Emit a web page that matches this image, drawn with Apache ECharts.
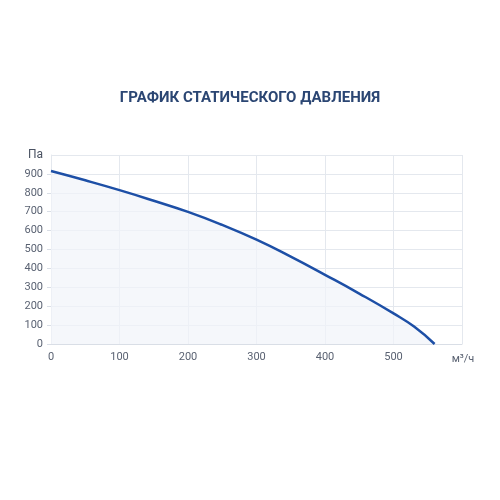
<!DOCTYPE html>
<html>
<head>
<meta charset="utf-8">
<script src="https://cdn.jsdelivr.net/npm/echarts@6/dist/echarts.min.js"></script>
<style>html,body{margin:0;padding:0;background:#fff}#c{width:500px;height:500px}</style>
</head>
<body>
<div id="c"></div>
<script>
const titleText = 'ГРАФИК СТАТИЧЕСКОГО ДАВЛЕНИЯ';
const xName = 'м³/ч';
const yName = 'Па';
const flow = [0, 50, 100, 150, 200, 250, 300, 350, 400, 450, 500, 530, 560];
const pressure = [915, 866, 814, 758, 699, 630, 552, 462, 366, 267, 162, 92, 0];

const chart = echarts.init(document.getElementById('c'));
chart.setOption({
  backgroundColor: '#ffffff',
  animation: false,
  title: {
    text: titleText, left: 'center', top: 86,
    textStyle: { color: '#2b4673', fontSize: 15, fontWeight: 'bold', fontFamily: 'Roboto' }
  },
  grid: { left: 51, right: 38, top: 155, bottom: 156, containLabel: false },
  xAxis: {
    type: 'value', min: 0, max: 600, interval: 100,
    name: xName, nameLocation: 'end', nameGap: 1,
    nameTextStyle: { color: '#5a6272', fontSize: 11, fontFamily: 'Roboto', align: 'center', verticalAlign: 'top', padding: [10, 0, 0, 0] },
    axisLine: { lineStyle: { color: '#d9dee6' } },
    axisTick: { show: false },
    axisLabel: { color: '#5a6272', fontSize: 11, fontFamily: 'Roboto', margin: 8, showMaxLabel: false },
    splitLine: { show: true, lineStyle: { color: '#e4e8ee' } }
  },
  yAxis: {
    type: 'value', min: 0, max: 1000, interval: 100,
    name: yName, nameLocation: 'end', nameGap: 0,
    nameTextStyle: { color: '#4a5262', fontSize: 12, fontFamily: 'Roboto', align: 'right', verticalAlign: 'middle', padding: [0, 8, 0, 0] },
    axisLine: { show: true, lineStyle: { color: '#e4e8ee' } },
    axisTick: { show: true, length: 4, lineStyle: { color: '#d9dee6' } },
    axisLabel: { color: '#5a6272', fontSize: 11, fontFamily: 'Roboto', margin: 8, showMaxLabel: false },
    splitLine: { show: true, lineStyle: { color: '#e4e8ee' } }
  },
  series: [{
    type: 'line',
    data: flow.map((x, i) => [x, pressure[i]]),
    smooth: 0.5,
    symbol: 'none',
    lineStyle: { color: '#1d4fa6', width: 2.5 },
    areaStyle: { color: '#f1f4fa' }
  }]
});
</script>
</body>
</html>
